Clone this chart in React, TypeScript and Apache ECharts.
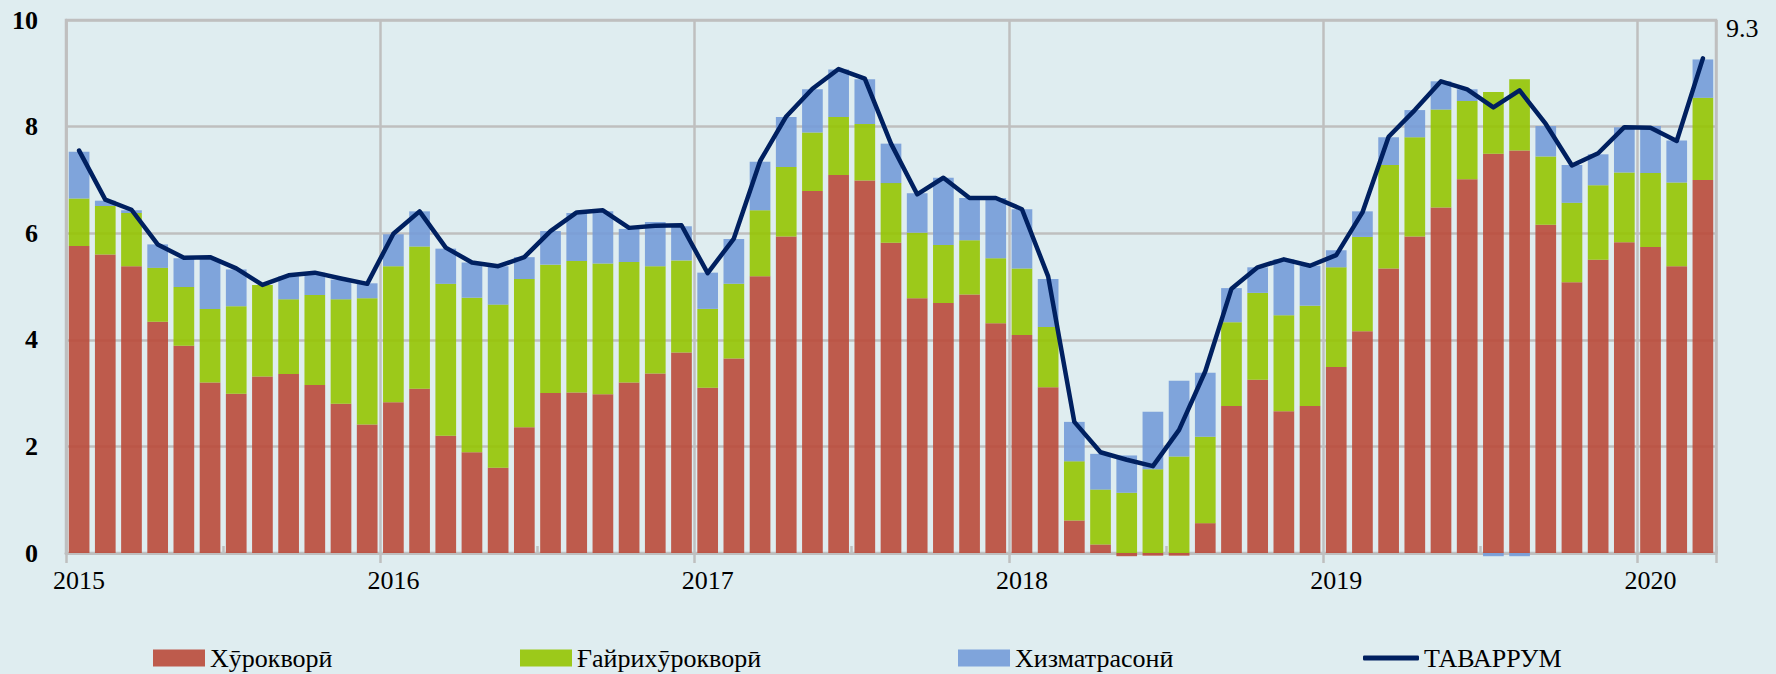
import React, { useEffect, useRef } from "react";
import * as echarts from "echarts";

// ---- Data -------------------------------------------------------------
const years = ["2015", "2016", "2017", "2018", "2019", "2020"];
const monthCodes = ["01", "02", "03", "04", "05", "06", "07", "08", "09", "10", "11", "12"];
const monthCount = 63; // Jan 2015 .. Mar 2020
const categories: string[] = years
  .flatMap((y) => monthCodes.map((m) => `${y}-${m}`))
  .slice(0, monthCount);

const seriesNames = ["Хӯрокворӣ", "Ғайрихӯрокворӣ", "Хизматрасонӣ", "ТАВАРРУМ"];

// Food (Хӯрокворӣ)
const food = [
  5.76, 5.6, 5.38, 4.34, 3.89, 3.2, 2.99, 3.31, 3.36, 3.15, 2.8, 2.41,
  2.83, 3.08, 2.2, 1.89, 1.6, 2.36, 3.0, 3.01, 2.98, 3.2, 3.37, 3.76,
  3.1, 3.65, 5.19, 5.94, 6.79, 7.09, 6.99, 5.82, 4.78, 4.69, 4.85, 4.31,
  4.09, 3.11, 0.61, 0.16, -0.06, -0.05, -0.05, 0.56, 2.76, 3.25, 2.66, 2.76,
  3.49, 4.16, 5.34, 5.94, 6.48, 7.01, 7.49, 7.55, 6.16, 5.08, 5.5, 5.83,
  5.74, 5.38, 7.0,
];
// Non-food (Ғайрихӯрокворӣ)
const nonFood = [
  0.89, 0.91, 1.0, 1.01, 1.1, 1.38, 1.64, 1.72, 1.4, 1.69, 1.96, 2.37,
  2.55, 2.67, 2.85, 2.9, 3.06, 2.78, 2.41, 2.47, 2.45, 2.26, 2.01, 1.73,
  1.48, 1.4, 1.24, 1.3, 1.1, 1.09, 1.06, 1.12, 1.23, 1.09, 1.02, 1.22,
  1.25, 1.13, 1.11, 1.03, 1.13, 1.57, 1.81, 1.62, 1.57, 1.63, 1.8, 1.88,
  1.87, 1.77, 1.94, 1.86, 1.84, 1.47, 1.16, 1.34, 1.28, 1.49, 1.4, 1.31,
  1.39, 1.57, 1.54,
];
// Services (Хизматрасонӣ)
const services = [
  0.88, 0.1, 0.05, 0.44, 0.54, 0.93, 0.69, 0.0, 0.43, 0.42, 0.37, 0.28,
  0.6, 0.66, 0.66, 0.66, 0.72, 0.41, 0.63, 0.9, 0.98, 0.62, 0.83, 0.64,
  0.68, 0.84, 0.91, 0.94, 0.81, 0.89, 0.84, 0.74, 0.74, 1.26, 0.79, 1.13,
  1.11, 0.9, 0.74, 0.67, 0.7, 1.08, 1.42, 1.2, 0.64, 0.48, 1.05, 0.75,
  0.32, 0.48, 0.52, 0.51, 0.53, 0.22, -0.06, -0.06, 0.57, 0.71, 0.58, 0.85,
  0.88, 0.79, 0.72,
];
// Headline inflation (ТАВАРРУМ)
const inflation = [
  7.55, 6.63, 6.44, 5.79, 5.54, 5.55, 5.34, 5.03, 5.21, 5.26, 5.15, 5.05,
  5.99, 6.41, 5.73, 5.45, 5.38, 5.55, 6.04, 6.39, 6.43, 6.1, 6.14, 6.15,
  5.25, 5.9, 7.35, 8.19, 8.71, 9.08, 8.9, 7.68, 6.73, 7.04, 6.66, 6.66,
  6.45, 5.19, 2.46, 1.89, 1.75, 1.63, 2.31, 3.41, 4.96, 5.36, 5.51, 5.39,
  5.59, 6.39, 7.81, 8.31, 8.85, 8.7, 8.36, 8.68, 8.05, 7.27, 7.5, 7.99,
  7.98, 7.73, 9.28,
];

// ---- Styling ----------------------------------------------------------
const FONT = '"Liberation Serif", "DejaVu Serif", serif';
const BG = "#DFEDF0";
const GRID = "#BFBFBF";
const RED = "#BA4A3A";
const GREEN = "#95C402";
const BLUE = "#749BD8";
const NAVY = "#002060";

const isYearStart = (i: number) => i % 12 === 0;

export default function App() {
  const ref = useRef<HTMLDivElement>(null);

  useEffect(() => {
    if (!ref.current) return;
    const chart = echarts.init(ref.current, undefined, { renderer: "svg" });

    const legendBase = {
      top: 643,
      padding: 0,
      itemGap: 0,
      selectedMode: false,
      textStyle: { color: "#000", fontSize: 26, fontFamily: FONT, lineHeight: 30 },
    };

    const barSeries = (name: string, data: number[], color: string) => ({
      name,
      type: "bar",
      stack: "total",
      data,
      barCategoryGap: "21%",
      clip: false,
      itemStyle: { color, opacity: 0.9 },
      emphasis: { disabled: true },
    });

    const lastIdx = inflation.length - 1;

    const option: any = {
      animation: false,
      backgroundColor: BG,
      textStyle: { fontFamily: FONT },
      grid: {
        left: 66,
        right: 60,
        top: 20,
        bottom: 121,
        show: true,
        borderColor: GRID,
        borderWidth: 2.5,
        backgroundColor: "transparent",
        outerBoundsMode: "none",
      },
      legend: [
        { ...legendBase, left: 153, itemWidth: 52, itemHeight: 17, data: [{ name: seriesNames[0], icon: "rect" }] },
        { ...legendBase, left: 520, itemWidth: 52, itemHeight: 17, data: [{ name: seriesNames[1], icon: "rect" }] },
        { ...legendBase, left: 958, itemWidth: 52, itemHeight: 17, data: [{ name: seriesNames[2], icon: "rect" }] },
        { ...legendBase, left: 1363, itemWidth: 56, itemHeight: 5, data: [{ name: seriesNames[3], icon: "roundRect" }] },
      ],
      xAxis: [
        {
          type: "category",
          data: categories,
          boundaryGap: true,
          axisLine: { show: true, lineStyle: { color: GRID, width: 3 } },
          axisTick: {
            show: true,
            interval: (i: number) => isYearStart(i),
            length: 10,
            lineStyle: { color: GRID, width: 2.5 },
          },
          axisLabel: {
            interval: (i: number) => isYearStart(i),
            formatter: (v: string) => v.slice(0, 4),
            color: "#000",
            fontSize: 26,
            fontFamily: FONT,
            margin: 14,
          },
          splitLine: {
            show: true,
            interval: (i: number) => isYearStart(i),
            lineStyle: { color: GRID, width: 2.5 },
          },
        },
        {
          type: "category",
          data: categories,
          position: "bottom",
          boundaryGap: true,
          axisLine: { show: false },
          axisLabel: { show: false },
          splitLine: { show: false },
          axisTick: {
            show: true,
            inside: true,
            interval: (i: number) => i % 12 === 6,
            length: 7,
            lineStyle: { color: GRID, width: 2.5 },
          },
        },
      ],
      yAxis: {
        type: "value",
        min: 0,
        max: 10,
        interval: 2,
        axisLine: { show: true, lineStyle: { color: GRID, width: 2.5 } },
        axisTick: { show: false },
        axisLabel: {
          color: "#000",
          fontWeight: "bold",
          fontSize: 26,
          fontFamily: FONT,
          margin: 28,
        },
        splitLine: { show: true, lineStyle: { color: GRID, width: 2.5 } },
      },
      series: [
        barSeries(seriesNames[0], food, RED),
        barSeries(seriesNames[1], nonFood, GREEN),
        barSeries(seriesNames[2], services, BLUE),
        {
          name: seriesNames[3],
          type: "line",
          data: inflation.map((v, i) =>
            i === lastIdx
              ? {
                  value: v,
                  label: {
                    show: true,
                    position: "right",
                    distance: 5,
                    offset: [18, -30],
                    formatter: (p: any) => Number(p.value).toFixed(1),
                    color: "#000",
                    fontSize: 26,
                    fontFamily: FONT,
                  },
                }
              : v
          ),
          symbol: "circle",
          symbolSize: 0,
          showSymbol: true,
          label: { show: false },
          lineStyle: { color: NAVY, width: 4.5, cap: "round", join: "round" },
          itemStyle: { color: NAVY },
          emphasis: { disabled: true },
          z: 5,
        },
      ],
    };

    chart.setOption(option);
    return () => chart.dispose();
  }, []);

  return (
    <div
      ref={ref}
      style={{ position: "fixed", left: 0, top: 0, width: 1776, height: 674, background: BG }}
    />
  );
}
